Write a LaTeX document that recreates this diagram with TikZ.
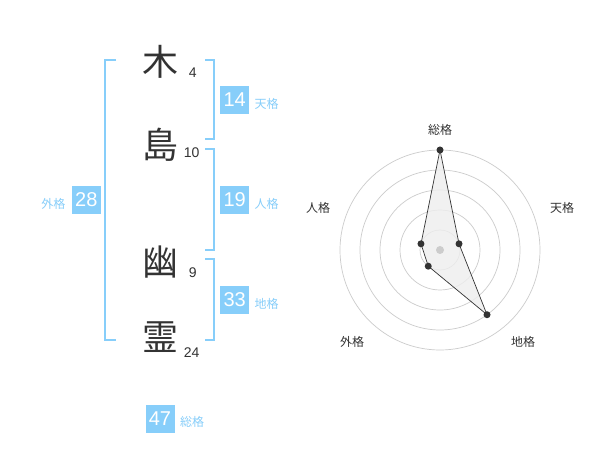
\documentclass[tikz,border=0pt]{standalone}
\usepackage{fontspec}
\usetikzlibrary{calc}
\setmainfont{Liberation Sans}
\newfontfamily\cjk{Noto Sans CJK JP}
\definecolor{kblue}{HTML}{87CEFA}
\definecolor{kdark}{HTML}{333333}
\definecolor{kring}{HTML}{CCCCCC}
\definecolor{kfill}{HTML}{EEEEEE}
\begin{document}
\begin{tikzpicture}[x=1pt,y=-1pt,
 kanji/.style={font=\cjk\fontsize{36}{36}\selectfont, text=kdark, inner sep=0},
 strokes/.style={font=\fontsize{14}{14}\selectfont, text=kdark, inner sep=0},
 scorebox/.style={fill=kblue, text=white, font=\fontsize{20}{20}\selectfont, minimum width=29pt, minimum height=28pt, inner sep=0},
 scorelabel/.style={font=\cjk\fontsize{12}{12}\selectfont, text=kblue, inner sep=0},
 bracket/.style={draw=kblue, line width=2pt, line join=miter},
 ring/.style={draw=kring, line width=0.7pt},
 axislabel/.style={font=\cjk\fontsize{12}{12}\selectfont, text=kdark, inner sep=0},
 pt/.style={circle, fill=kdark, inner sep=0, minimum size=7pt}]
\useasboundingbox (0,0) rectangle (600,470);
\fill[white] (0,0) rectangle (600,470);
% brackets
\draw[bracket] (116,60) -- (105,60) -- (105,340) -- (116,340);
\draw[bracket] (205,60) -- (214,60) -- (214,139) -- (205,139);
\draw[bracket] (205,149) -- (214,149) -- (214,250) -- (205,250);
\draw[bracket] (205,259) -- (214,259) -- (214,340) -- (205,340);
% characters
\node[kanji] (k1) at (160,62) {木};
\node[kanji] (k2) at (160,145) {島};
\node[kanji] (k3) at (160,262) {幽};
\node[kanji] (k4) at (160,337) {霊};
\node[strokes] (s1) at (192.7,72.7) {4};
\node[strokes] (s2) at (191.7,152.7) {10};
\node[strokes] (s3) at (192.7,273) {9};
\node[strokes] (s4) at (191.7,352.7) {24};
% score boxes
\node[scorebox] (ten) at (234.7,100) {14};
\node[scorelabel, anchor=west] (tenl) at (254.3,104) {天格};
\node[scorebox] (jin) at (234.7,200) {19};
\node[scorelabel, anchor=west] (jinl) at (254.3,204) {人格};
\node[scorebox] (chi) at (234.7,300) {33};
\node[scorelabel, anchor=west] (chil) at (254.3,304) {地格};
\node[scorebox] (gai) at (86.3,200) {28};
\node[scorelabel] (gail) at (53.3,204) {外格};
\node[scorebox] (sou) at (160,419) {47};
\node[scorelabel, anchor=west] (soul) at (180,422) {総格};
% radar
\coordinate (c) at (440,250);
\foreach \r in {20,40,60,80,100} \draw[ring] (c) circle[radius=\r];
\coordinate (pS) at ($(c)+(-90:100)$);
\coordinate (pT) at ($(c)+(-18:20)$);
\coordinate (pC) at ($(c)+(54:80)$);
\coordinate (pG) at ($(c)+(126:20)$);
\coordinate (pJ) at ($(c)+(-162:20)$);
\filldraw[fill=kfill, draw=kdark, line width=0.7pt, fill opacity=0.8] (pS) -- (pT) -- (pC) -- (pG) -- (pJ) -- cycle;
\fill[kring] (c) circle[radius=4];
\foreach \p in {pS,pT,pC,pG,pJ} \node[pt] at (\p) {};
\node[axislabel] (aS) at (440,130) {総格};
\node[axislabel] (aT) at (562,208) {天格};
\node[axislabel] (aJ) at (318,208) {人格};
\node[axislabel] (aG) at (352,342) {外格};
\node[axislabel] (aC) at (523,342) {地格};
\end{tikzpicture}
\end{document}
